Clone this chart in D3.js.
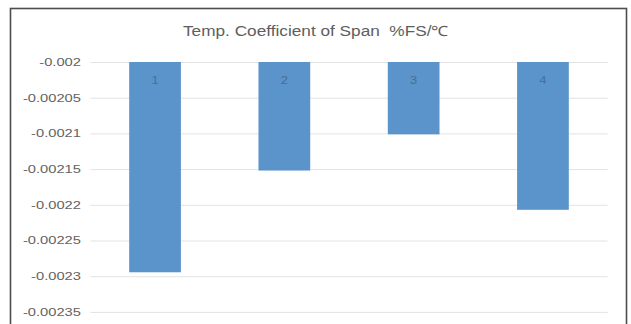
<!DOCTYPE html>
<html>
<head>
<meta charset="utf-8">
<script src="https://cdn.jsdelivr.net/npm/d3@7"></script>
<style>
  html, body { margin: 0; padding: 0; background: #fff; }
  svg { display: block; }
  text { font-family: "Liberation Sans", Arial, sans-serif; }
</style>
</head>
<body>
<div id="chart"></div>
<script>
// Temperature coefficient of span, one bar per sample
const categories = ["1", "2", "3", "4"];
const spanCoeff = [-0.0022945, -0.002152, -0.0021013, -0.002207];
const tickValues = [-0.002, -0.00205, -0.0021, -0.00215, -0.0022, -0.00225, -0.0023, -0.00235];
const tickLabels = ["-0.002", "-0.00205", "-0.0021", "-0.00215", "-0.0022", "-0.00225", "-0.0023", "-0.00235"];
const title = "Temp. Coefficient of Span  %FS/\u2103";

const W = 631, H = 324;
const plot = { left: 90.4, right: 607.6, top: 62, bottom: 347.6 };

const svg = d3.select("#chart").append("svg")
  .attr("width", W).attr("height", H);

svg.append("rect").attr("width", W).attr("height", H).attr("fill", "#fff");

// outer chart frame (bottom edge falls below the visible area)
svg.append("rect")
  .attr("x", 10.5).attr("y", 8.5)
  .attr("width", 616).attr("height", 360)
  .attr("fill", "#fff")
  .attr("stroke", "#4d4d4d").attr("stroke-width", 1.6);

const x = d3.scaleBand()
  .domain(categories)
  .range([plot.left, plot.right])
  .paddingInner(0.6)
  .paddingOuter(0.3);

const y = d3.scaleLinear()
  .domain([-0.0024, -0.002])
  .range([plot.bottom, plot.top]);

// gridlines + tick labels
const yAxis = d3.axisLeft(y)
  .tickValues(tickValues)
  .tickFormat((d, i) => tickLabels[i])
  .tickSize(-(plot.right - plot.left))
  .tickPadding(9);

const gAxis = svg.append("g")
  .attr("transform", `translate(${plot.left},0)`)
  .call(yAxis);
gAxis.select(".domain").remove();
gAxis.selectAll(".tick line").attr("stroke", "#e3e3e3").attr("stroke-width", 1);
gAxis.selectAll(".tick text")
  .attr("x", null)
  .attr("transform", "translate(-9.5,0) scale(1.4,1)")
  .attr("fill", "#636363")
  .style("font-size", "10.5px");

// bars hang down from the top of the axis
const base = y.domain()[1];
svg.append("g").selectAll("rect")
  .data(categories.map((c, i) => ({ c, v: spanCoeff[i] })))
  .join("rect")
  .attr("x", d => x(d.c))
  .attr("y", y(base))
  .attr("width", x.bandwidth())
  .attr("height", d => y(d.v) - y(base))
  .attr("fill", "#5b94cb");

// category labels inside the bars
svg.append("g").selectAll("text")
  .data(categories)
  .join("text")
  .attr("transform", d => `translate(${x(d) + x.bandwidth() / 2},${y(base) + 22}) scale(1.3,1)`)
  .attr("text-anchor", "middle")
  .attr("fill", "#4b6e93")
  .style("font-size", "10px")
  .text(d => d);

// title
svg.append("text")
  .attr("transform", "translate(316,36) scale(1.23,1)")
  .attr("text-anchor", "middle")
  .attr("fill", "#5e5e5e")
  .style("font-size", "14px")
  .style("white-space", "pre")
  .attr("xml:space", "preserve")
  .text(title);
</script>
</body>
</html>
